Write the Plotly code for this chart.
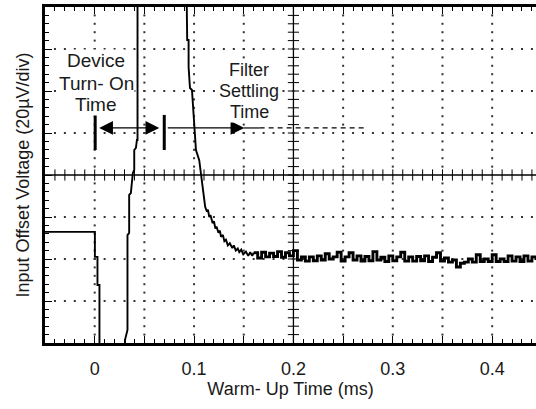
import numpy as np
import plotly.graph_objects as go

# ---------------- data ----------------
# transient part of the warm-up trace: time in ms, offset in uV (20 uV/div)
time_ms = [-0.0500, 0.0002, 0.0002, 0.0028, 0.0028, 0.0048, 0.0048,
           0.0305, 0.0305, 0.0324, 0.0330, 0.0330, 0.0347, 0.0347, 0.0364,
           0.0384, 0.0398, 0.0398, 0.0415, 0.0425, 0.0431, 0.0431,
           0.0924, 0.0931, 0.0945, 0.0945, 0.0959, 0.0979, 0.0992, 0.1002,
           0.1019, 0.1052, 0.1069, 0.1085, 0.1112, 0.1130, 0.1140, 0.1153,
           0.1165, 0.1186, 0.1200, 0.1215, 0.1226, 0.1245, 0.1260, 0.1271,
           0.1290, 0.1305, 0.1321, 0.1340, 0.1360, 0.1385, 0.1400, 0.1420,
           0.1440, 0.1455, 0.1475, 0.1495, 0.1522, 0.1545, 0.1565, 0.1586,
           0.1600]
offset_uV = [-27.1, -27.1, -39.0, -39.0, -52.4, -52.4, -90.0,
             -90.0, -78.6, -73.8, -73.8, -28.6, -27.6, -9.5, -8.6,
             1.0, 2.4, 11.9, 12.9, 16.7, 16.7, 90.0,
             90.0, 64.3, 64.3, 51.4, 41.4, 40.5, 31.0, 20.0,
             11.9, 7.1, 0.0, -7.1, -15.2, -17.5, -16.5, -20.0,
             -19.0, -22.9, -22.0, -25.5, -24.5, -27.5, -26.5, -29.5,
             -28.5, -31.5, -30.8, -33.5, -32.5, -34.8, -33.5, -36.0,
             -35.0, -36.7, -35.5, -37.8, -36.5, -38.5, -36.8, -38.5,
             -37.0]

# settled (noisy) part of the trace
settle_ms = [0.160, 0.164, 0.168, 0.172, 0.176, 0.180, 0.184, 0.188, 0.192, 0.196,
             0.200, 0.204, 0.208, 0.212, 0.216, 0.220, 0.224, 0.228, 0.232, 0.236,
             0.240, 0.244, 0.248, 0.252, 0.256, 0.260, 0.264, 0.268, 0.272, 0.276,
             0.280, 0.284, 0.288, 0.292, 0.296, 0.300, 0.304, 0.308, 0.312, 0.316,
             0.320, 0.324, 0.328, 0.332, 0.336, 0.340, 0.344, 0.348, 0.352, 0.356,
             0.360, 0.364, 0.368, 0.372, 0.376, 0.380, 0.384, 0.388, 0.392, 0.396,
             0.400, 0.404, 0.408, 0.412, 0.416, 0.420, 0.424, 0.428, 0.432, 0.436,
             0.440, 0.444]
settle_uV = [-37.0, -39.5, -36.8, -39.0, -37.2, -38.8, -36.5, -39.2, -37.0, -38.5,
             -36.0, -40.5, -39.0, -41.0, -39.0, -40.8, -38.5, -40.5, -37.5, -40.0,
             -39.0, -36.8, -41.0, -39.0, -37.0, -40.5, -38.5, -41.0, -38.8, -40.8,
             -36.5, -40.5, -39.2, -41.2, -38.5, -40.8, -39.0, -36.8, -41.0, -39.0,
             -41.0, -38.8, -40.8, -38.5, -41.2, -39.2, -37.0, -41.0, -39.5, -41.5,
             -40.5, -43.8, -42.0, -41.5, -40.0, -41.5, -38.0, -41.2, -40.0, -41.2,
             -38.0, -41.2, -40.0, -41.2, -38.5, -41.0, -39.0, -41.2, -38.5, -41.0,
             -39.0, -40.5]

x_tick_vals = [-0.05, 0.0, 0.05, 0.1, 0.15, 0.2, 0.25, 0.3, 0.35, 0.4]
x_tick_text = ["", "0", "", "0.1", "", "0.2", "", "0.3", "", "0.4"]

# ---------------- figure ----------------
FONT = "Liberation Sans, Arial, sans-serif"
INK = "#1a1a1a"
X0, X1 = -0.05, 0.4441
Y0, Y1 = -80, 80

fig = go.Figure()

# dotted graticule (dots at every minor division along the major lines)
minor_x = np.round(np.arange(-0.04, 0.445, 0.01), 3)
minor_y = np.arange(-76, 77, 4)
grid_vx = [0.0, 0.05, 0.1, 0.15, 0.25, 0.3, 0.35, 0.4]
grid_hy = [-60, -40, -20, 20, 40, 60]
dx, dy = [], []
for gx in grid_vx:
    for my in minor_y:
        dx.append(gx); dy.append(my)
for gy in grid_hy:
    for mx in minor_x:
        dx.append(mx); dy.append(gy)
fig.add_trace(go.Scatter(x=dx, y=dy, mode="markers",
                         marker=dict(size=2, color="#333333", symbol="square"),
                         hoverinfo="skip", showlegend=False))

# ticks on the centre cross-hair
fig.add_trace(go.Scatter(x=minor_x, y=[0] * len(minor_x), mode="markers",
                         marker=dict(symbol="line-ns", size=8,
                                     line=dict(width=1, color="black")),
                         hoverinfo="skip", showlegend=False))
fig.add_trace(go.Scatter(x=[0.2] * len(minor_y), y=minor_y, mode="markers",
                         marker=dict(symbol="line-ew", size=8,
                                     line=dict(width=1, color="black")),
                         hoverinfo="skip", showlegend=False))

# the trace
fig.add_trace(go.Scatter(x=time_ms, y=offset_uV,
                         mode="lines", line=dict(color="black", width=1.9),
                         hoverinfo="skip", showlegend=False))
fig.add_trace(go.Scatter(x=settle_ms, y=settle_uV, mode="lines",
                         line=dict(color="black", width=2.9, shape="hv"),
                         hoverinfo="skip", showlegend=False))

# centre cross-hair lines
fig.add_shape(type="line", xref="paper", yref="y", x0=0, x1=1, y0=0, y1=0,
              line=dict(color="black", width=1.3), layer="below")
fig.add_shape(type="line", xref="x", yref="paper", x0=0.2, x1=0.2, y0=0, y1=1,
              line=dict(color="black", width=1.3), layer="below")

# marker bars and arrows
ARROW_Y = 22.4
for bx in (0.0005, 0.070):
    fig.add_shape(type="line", xref="x", yref="y", x0=bx, x1=bx, y0=11.9, y1=28.6,
                  line=dict(color="black", width=3))
fig.add_annotation(x=0.0045, y=ARROW_Y, ax=0.0665, ay=ARROW_Y, xref="x", yref="y",
                   axref="x", ayref="y", text="", showarrow=True,
                   arrowside="end+start", arrowhead=2, arrowsize=2.3,
                   arrowwidth=1.2, arrowcolor="black")
fig.add_annotation(x=0.1506, y=ARROW_Y, ax=0.072, ay=ARROW_Y, xref="x", yref="y",
                   axref="x", ayref="y", text="", showarrow=True,
                   arrowhead=2, arrowsize=2.3, arrowwidth=1.2, arrowcolor="black")
fig.add_shape(type="line", xref="x", yref="y", x0=0.150, x1=0.166, y0=ARROW_Y, y1=ARROW_Y,
              line=dict(color="black", width=1.2))
fig.add_shape(type="line", xref="x", yref="y", x0=0.166, x1=0.273, y0=ARROW_Y, y1=ARROW_Y,
              line=dict(color="black", width=1.2, dash="5px,4px"))

# text labels (drawn bottom line first so upper lines stay on top)
for txt, yy in (("Time", 33.4), ("Turn- On", 43.7), ("Device", 54.3)):
    fig.add_annotation(x=0.0015, y=yy, xref="x", yref="y", text=txt, showarrow=False,
                       font=dict(family=FONT, size=19, color=INK),
                       xanchor="center", yanchor="middle",
                       bgcolor="white", borderpad=0)
for txt, yy in (("Time", 30.2), ("Settling", 39.9), ("Filter", 50.0)):
    fig.add_annotation(x=0.1556, y=yy, xref="x", yref="y", text=txt, showarrow=False,
                       font=dict(family=FONT, size=18, color=INK),
                       xanchor="center", yanchor="middle",
                       bgcolor="white", borderpad=0)

fig.update_layout(
    width=536, height=409,
    margin=dict(l=45, r=0, t=7, b=66),
    paper_bgcolor="white", plot_bgcolor="white",
    font=dict(family=FONT, size=18, color=INK),
    showlegend=False,
)
fig.update_xaxes(
    range=[X0, X1], tickmode="array", tickvals=x_tick_vals, ticktext=x_tick_text,
    ticks="inside", ticklen=7, tickwidth=1, tickcolor="black",
    showline=True, linewidth=2.5, linecolor="black", mirror="ticks",
    showgrid=False, zeroline=False,
    minor=dict(dtick=0.01, tick0=0, ticks="inside", ticklen=4, tickwidth=1,
               tickcolor="black", showgrid=False),
    tickfont=dict(family=FONT, size=18, color=INK), ticklabelstandoff=8,
    title=dict(text="Warm- Up Time (ms)", font=dict(family=FONT, size=18, color=INK),
               standoff=5),
)
fig.update_yaxes(
    range=[Y0, Y1], tickmode="linear", tick0=-80, dtick=20, showticklabels=False,
    ticks="inside", ticklen=7, tickwidth=1, tickcolor="black",
    showline=True, linewidth=2.5, linecolor="black", mirror=False,
    showgrid=False, zeroline=False,
    minor=dict(dtick=4, tick0=0, ticks="inside", ticklen=4, tickwidth=1,
               tickcolor="black", showgrid=False),
    title=dict(text="Input Offset Voltage (20µV/div)",
               font=dict(family=FONT, size=18, color=INK), standoff=8),
)

fig.write_html("out.html", config={"displayModeBar": False},
               post_script="document.body.style.margin='0';document.body.style.overflow='hidden';")
